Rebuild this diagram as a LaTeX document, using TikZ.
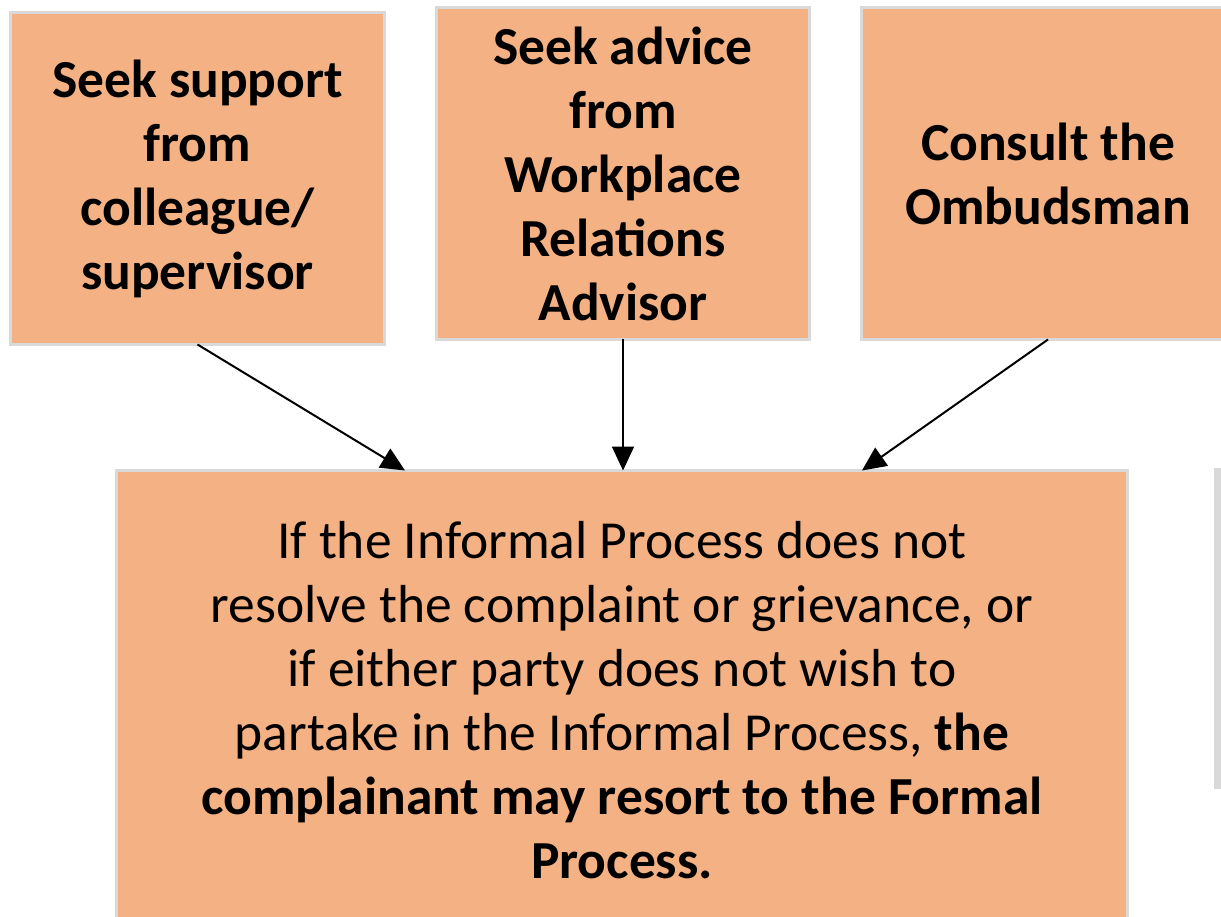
\documentclass[tikz,border=0pt]{standalone}
\usepackage{fontspec}
\setmainfont{Carlito}
\usetikzlibrary{arrows.meta,calc}
\definecolor{boxfill}{RGB}{244,177,131}
\definecolor{boxline}{RGB}{217,217,217}
\begin{document}
\begin{tikzpicture}[x=1pt,y=-1pt,
  stepbox/.style={draw=boxline, fill=boxfill, line width=3pt, rectangle,
    align=center, inner sep=0pt, outer sep=0pt, text=black},
  topbox/.style={stepbox, minimum width=373pt, minimum height=332pt,
    font=\fontsize{53.5}{64}\selectfont\bfseries},
  flow/.style={line width=2pt, -{Triangle[length=24pt,width=22pt]}}]
  \useasboundingbox (0,0) rectangle (1221,917);
  \clip (0,0) rectangle (1221,917);
  % three informal options
  \node[topbox, minimum width=374pt] (a) at (197.5,178.5)
    {Seek support\\from\\colleague/\\supervisor};
  \node[topbox] (b) at (623,173.5)
    {Seek advice\\from\\Workplace\\Relations\\Advisor};
  \node[topbox] (c) at (1048,173.5)
    {Consult the\\Ombudsman};
  % outcome box
  \node[stepbox, minimum width=1011pt, minimum height=460pt,
    font=\fontsize{53.5}{64}\selectfont] (d) at (622,700.5)
    {If the Informal Process does not\\
     resolve the complaint or grievance, or\\
     if either party does not wish to\\
     partake in the Informal Process, \textbf{the}\\
     \textbf{complainant may resort to the Formal}\\
     \textbf{Process.}};
  % neighbouring shape edge
  \fill[boxline] (1214,468) rectangle (1221,789);
  % connectors
  \draw[flow] (a.south) -- ([xshift=-217pt]d.north);
  \draw[flow] (b.south) -- (b.south |- d.north);
  \draw[flow] (c.south) -- ([xshift=240pt]d.north);
\end{tikzpicture}
\end{document}
